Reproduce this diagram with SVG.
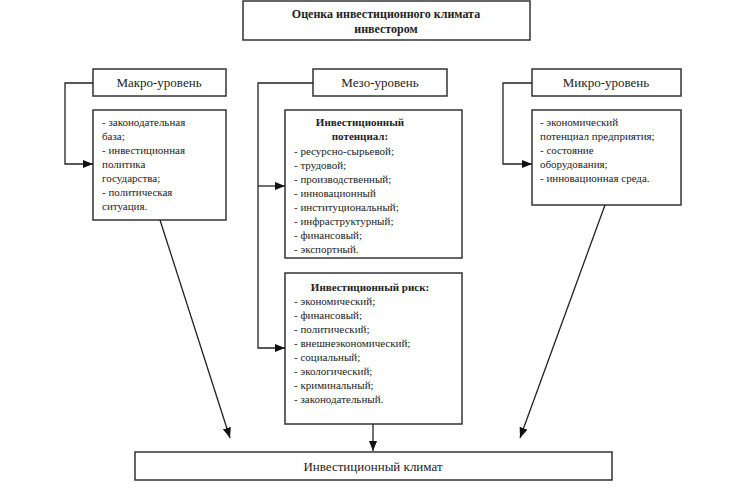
<svg xmlns="http://www.w3.org/2000/svg" width="750" height="492" viewBox="0 0 750 492" font-family="'Liberation Serif','DejaVu Serif','Times New Roman',serif">
<defs><marker id="a" viewBox="0 0 10 10" refX="10" refY="5" markerWidth="8" markerHeight="8" orient="auto"><path d="M0,1 L10,5 L0,9 z" fill="#111"/></marker></defs>
<style>
rect{fill:#fff;stroke:#333;stroke-width:1.5}
text{font-family:'Liberation Serif','DejaVu Serif','Times New Roman',serif;font-size:11px;fill:#222}
.h{font-size:13px}
.b{font-weight:bold}
.c line,.c path{stroke:#222;stroke-width:1.3;fill:none}
</style>
<rect width="750" height="492" style="stroke:none"/>
<g id="title"><rect x="243" y="1" width="287" height="39"/><text x="386" y="18" text-anchor="middle" class="b" style="font-size:12px">Оценка инвестиционного  климата</text><text x="386" y="33" text-anchor="middle" class="b" style="font-size:12px">инвестором</text></g>
<g id="makro"><rect x="93" y="69" width="133" height="27"/><text x="159" y="87" text-anchor="middle" class="h">Макро-уровень</text></g>
<g id="makro-list"><rect x="93" y="110" width="133" height="110"/>
<text x="102" y="126">- законодательная</text><text x="102" y="140">база;</text><text x="102" y="154">- инвестиционная</text><text x="102" y="168">политика</text><text x="102" y="182">государства;</text><text x="102" y="196">- политическая</text><text x="102" y="210">ситуация.</text></g>
<g id="mezo"><rect x="313" y="69" width="134" height="27"/><text x="380" y="87" text-anchor="middle" class="h">Мезо-уровень</text></g>
<g id="potential"><rect x="285" y="110" width="177" height="148"/>
<text x="360" y="126" text-anchor="middle" class="b">Инвестиционный</text><text x="360" y="140" text-anchor="middle" class="b">потенциал:</text>
<text x="294" y="155">- ресурсно-сырьевой;</text><text x="294" y="169">- трудовой;</text><text x="294" y="183">- производственный;</text><text x="294" y="197">- инновационный</text><text x="294" y="211">- институциональный;</text><text x="294" y="225">- инфраструктурный;</text><text x="294" y="239">- финансовый;</text><text x="294" y="253">- экспортный.</text></g>
<g id="risk"><rect x="285" y="273" width="177" height="151"/>
<text x="370" y="291" text-anchor="middle" class="b">Инвестиционный риск:</text>
<text x="294" y="305">- экономический;</text><text x="294" y="319">- финансовый;</text><text x="294" y="333">- политический;</text><text x="294" y="347">- внешнеэкономический;</text><text x="294" y="361">- социальный;</text><text x="294" y="375">- экологический;</text><text x="294" y="389">- криминальный;</text><text x="294" y="403">- законодательный.</text></g>
<g id="mikro"><rect x="532" y="69" width="149" height="27"/><text x="606" y="87" text-anchor="middle" class="h">Микро-уровень</text></g>
<g id="mikro-list"><rect x="532" y="110" width="149" height="95"/>
<text x="540" y="126">- экономический</text><text x="540" y="140">потенциал предприятия;</text><text x="540" y="154">- состояние</text><text x="540" y="168">оборудования;</text><text x="540" y="182">- инновационная среда.</text></g>
<g id="climate"><rect x="135" y="452" width="477" height="28"/><text x="373" y="471" text-anchor="middle" class="h">Инвестиционный климат</text></g>
<g class="c">
<path d="M93,83 H65 V164 H93" marker-end="url(#a)"/>
<path d="M313,83 H258 V348 H285" marker-end="url(#a)"/>
<path d="M258,186 H285" marker-end="url(#a)"/>
<path d="M532,83 H503 V164 H532" marker-end="url(#a)"/>
<line x1="160" y1="220" x2="230" y2="438" marker-end="url(#a)"/>
<line x1="605" y1="205" x2="520" y2="438" marker-end="url(#a)"/>
<line x1="373" y1="424" x2="373" y2="451" marker-end="url(#a)"/>
</g>
</svg>
